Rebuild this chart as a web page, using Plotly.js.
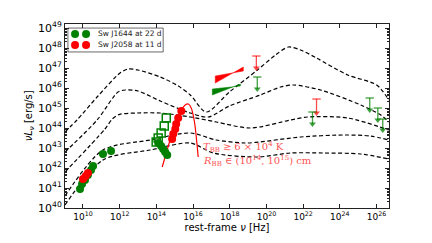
<!DOCTYPE html>
<html><head><meta charset="utf-8">
<script src="https://cdn.plot.ly/plotly-3.0.1.min.js"></script>
<style>html,body{margin:0;padding:0;background:#fff}#chart{width:432px;height:243px}</style>
</head><body><div id="chart"></div>
<script>
// ---- data (log10 of nu [Hz] and log10 of nuL_nu [erg/s]) ----
const modelAx = [9.02, 9.67, 10.82, 12.02, 12.46, 13.0, 14.21, 15.2, 15.85, 16.72, 17.98, 19.51, 20.49, 21.2, 21.86, 22.73, 24.43, 26.01, 26.67];
const modelAy = [43.8, 44.4, 45.6, 46.75, 46.95, 46.9, 46.55, 46.1, 45.65, 44.8, 45.8, 46.9, 47.65, 48.05, 47.9, 47.5, 46.65, 46.15, 45.4];
const modelBx = [9.02, 10.77, 11.91, 12.3, 13.0, 14.21, 15.85, 16.83, 17.98, 19.67, 20.77, 21.48, 22.95, 25.14, 26.23, 26.67];
const modelBy = [42.8, 44.4, 45.8, 45.9, 45.85, 45.35, 44.75, 44.55, 45.1, 45.65, 46.05, 46.15, 45.9, 45.15, 44.65, 44.3];
const modelCx = [9.02, 11.2, 11.6, 12.0, 12.95, 14.21, 15.85, 17.27, 19.13, 21.31, 22.24, 24.43, 26.67];
const modelCy = [41.8, 43.95, 44.45, 44.68, 44.75, 44.75, 44.55, 44.3, 44.0, 44.4, 44.55, 44.5, 43.9];
const modelDx = [9.02, 11.09, 13.66, 15.85, 17.27, 18.85, 19.62, 21.86, 24.21, 25.68, 26.67];
const modelDy = [40.6, 42.9, 43.4, 43.75, 43.4, 43.25, 43.3, 43.55, 43.65, 43.6, 43.4];
const modelEx = [9.02, 11.09, 13.66, 15.85, 17.1, 19.51, 21.31, 23.11, 25.14, 26.67];
const modelEy = [40.15, 42.4, 42.9, 43.25, 42.75, 42.55, 42.75, 42.75, 42.7, 42.45];

const j1644RadioX = [9.84, 9.95, 10.11, 10.27, 10.44, 10.55, 11.09, 11.53];
const j1644RadioY = [40.95, 41.2, 41.4, 41.65, 41.9, 42.1, 42.7, 42.85];
const j1644OptX = [14.1, 14.26, 14.37, 14.48, 14.59];
const j1644OptY = [43.25, 43.1, 42.95, 42.8, 42.65];
const j1644OpenX = [13.99, 14.1, 14.26, 14.43, 14.54];
const j1644OpenY = [43.3, 43.5, 43.75, 44.1, 44.5];
const j2058RadioX = [10.0, 10.15, 10.27];
const j2058RadioY = [41.45, 41.6, 41.75];
const j2058OptX = [14.86, 14.92, 15.03, 15.08, 15.19, 15.36];
const j2058OptY = [43.45, 43.7, 43.95, 44.2, 44.5, 44.85];

const bbX = [14.32, 14.75, 15.08, 15.36, 15.57, 15.74, 15.9, 16.07, 16.17, 16.28];
const bbY = [42.05, 43.4, 44.3, 44.9, 45.15, 45.2, 45.0, 44.35, 43.6, 42.55];

const j2058XrayX = [17.21, 18.74];
const j2058XrayLo = [46.25, 46.85];
const j2058XrayHi = [46.6, 47.05];
const j1644XrayX = [17.05, 18.58];
const j1644XrayLo = [45.65, 46.1];
const j1644XrayHi = [45.95, 46.2];

const j2058UlX = [19.45, 22.73];
const j2058UlTop = [47.6, 45.45];
const j2058UlTip = [47.0, 44.75];
const j1644UlX = [19.5, 22.51, 25.63, 26.07, 26.34];
const j1644UlTop = [46.55, 44.8, 45.5, 45.0, 44.45];
const j1644UlTip = [45.95, 44.2, 44.9, 44.4, 43.9];

const legendLabels = ["Sw J1644 at 22 d", "Sw J2058 at 11 d"];
const xTickExps = [10, 12, 14, 16, 18, 20, 22, 24, 26];
const yTickExps = [40, 41, 42, 43, 44, 45, 46, 47, 48, 49];

// ---- build ----
const P = v => Math.pow(10, v);
const GREEN = '#008000', RED = '#ff0000';
const traces = [];
function model(xs, ys) {
  traces.push({x: xs.map(P), y: ys.map(P), mode: 'lines', hoverinfo: 'skip',
    line: {color: '#000', width: 1.2, dash: '4px,2.5px', shape: 'spline', smoothing: 0.8}});
}
model(modelAx, modelAy); model(modelBx, modelBy); model(modelCx, modelCy);
model(modelDx, modelDy); model(modelEx, modelEy);

function bowtie(xs, lo, hi, color) {
  const px = [xs[0], xs[1], xs[1], xs[0], xs[0]].map(P);
  const py = [hi[0], lo[1], hi[1], lo[0], hi[0]].map(P);
  traces.push({x: px, y: py, mode: 'lines', fill: 'toself', fillcolor: color,
    line: {color: color, width: 0.5}, hoverinfo: 'skip'});
}
bowtie(j2058XrayX, j2058XrayLo, j2058XrayHi, RED);
bowtie(j1644XrayX, j1644XrayLo, j1644XrayHi, GREEN);

function uls(xs, tops, tips, color) {
  const lx = [], ly = [];
  xs.forEach((x, i) => { lx.push(P(x), P(x), null); ly.push(P(tops[i]), P(tips[i]), null); });
  traces.push({x: lx, y: ly, mode: 'lines', line: {color: color, width: 1.3}, hoverinfo: 'skip'});
  traces.push({x: xs.map(P), y: tops.map(P), mode: 'markers', hoverinfo: 'skip',
    marker: {symbol: 'line-ew', size: 6, line: {color: color, width: 1.3}}});
  traces.push({x: xs.map(P), y: tips.map(P), mode: 'markers', hoverinfo: 'skip',
    marker: {symbol: 'triangle-down', size: 6, color: color, line: {width: 0}}});
}
uls(j2058UlX, j2058UlTop, j2058UlTip, 'rgba(255,0,0,0.7)');
uls(j1644UlX, j1644UlTop, j1644UlTip, 'rgba(0,128,0,0.75)');

traces.push({x: bbX.map(P), y: bbY.map(P), mode: 'lines', hoverinfo: 'skip',
  line: {color: RED, width: 1.2, shape: 'spline', smoothing: 0.8}});

function pts(xs, ys, color) {
  traces.push({x: xs.map(P), y: ys.map(P), mode: 'markers', hoverinfo: 'skip',
    marker: {symbol: 'circle', size: 8, color: color, line: {width: 0}}});
}
pts(j1644RadioX, j1644RadioY, GREEN);
pts(j1644OptX, j1644OptY, GREEN);
traces.push({x: j1644OpenX.map(P), y: j1644OpenY.map(P), mode: 'markers', hoverinfo: 'skip',
  marker: {symbol: 'square-open', size: 8, color: GREEN, line: {width: 1.5, color: GREEN}}});
pts(j2058RadioX, j2058RadioY, RED);
pts(j2058OptX, j2058OptY, RED);

// custom legend markers (two per entry) on an overlay axis in [0,1]
traces.push({x: [0.031, 0.065], y: [0.946, 0.946], xaxis: 'x2', yaxis: 'y2', mode: 'markers',
  hoverinfo: 'skip', marker: {size: 8, color: GREEN}});
traces.push({x: [0.031, 0.065], y: [0.886, 0.886], xaxis: 'x2', yaxis: 'y2', mode: 'markers',
  hoverinfo: 'skip', marker: {size: 8, color: RED}});

const axCommon = {type: 'log', ticks: 'inside', mirror: 'ticks', showline: true, linecolor: '#222',
  linewidth: 1, tickcolor: '#222', showgrid: false, zeroline: false, tickmode: 'array'};
const layout = {
  width: 432, height: 243, showlegend: false,
  margin: {l: 65, r: 43, t: 24, b: 35},
  paper_bgcolor: '#fff', plot_bgcolor: '#fff',
  font: {family: 'DejaVu Sans', color: '#000'},
  xaxis: Object.assign({}, axCommon, {range: [9.02, 26.68], tickvals: xTickExps.map(P),
    ticktext: xTickExps.map(e => '10<sup>' + e + '</sup>'), ticklen: 4,
    tickfont: {size: 9}, title: {text: 'rest-frame <i>ν</i> [Hz]', font: {size: 10}, standoff: 2}}),
  yaxis: Object.assign({}, axCommon, {range: [40, 49.2], tickvals: yTickExps.map(P),
    ticktext: yTickExps.map(e => '10<sup>' + e + '</sup>'), ticklen: 4,
    tickfont: {size: 11}, minor: {ticks: 'inside', ticklen: 2, tickcolor: '#222', dtick: 'D1'},
    title: {text: ''}}),
  xaxis2: {overlaying: 'x', range: [0, 1], visible: false},
  yaxis2: {overlaying: 'y', range: [0, 1], visible: false},
  shapes: [{type: 'rect', xref: 'paper', yref: 'paper', x0: 0.009, x1: 0.303, y0: 0.848, y1: 0.978,
    line: {color: '#444', width: 0.8}, fillcolor: 'rgba(255,255,255,0.9)', layer: 'below'}],
  annotations: [
    {xref: 'paper', yref: 'paper', x: -0.11, y: 0.5, xanchor: 'center', yanchor: 'middle', showarrow: false,
      textangle: -90, text: '<i>νL</i><sub><i>ν</i></sub> [erg/s]', font: {size: 10}},
    {xref: 'paper', yref: 'paper', x: 0.096, y: 0.946, xanchor: 'left', yanchor: 'middle', showarrow: false,
      text: legendLabels[0], font: {size: 7.5, color: '#222'}},
    {xref: 'paper', yref: 'paper', x: 0.096, y: 0.886, xanchor: 'left', yanchor: 'middle', showarrow: false,
      text: legendLabels[1], font: {size: 7.5, color: '#222'}},
    {xref: 'paper', yref: 'paper', x: 0.42, y: 0.332, xanchor: 'left', yanchor: 'middle', showarrow: false,
      text: '<i>T</i><sub>BB</sub> ≳ 6 × 10<sup>4</sup> K', font: {family: 'DejaVu Serif', size: 10, color: '#ff5555'}},
    {xref: 'paper', yref: 'paper', x: 0.42, y: 0.255, xanchor: 'left', yanchor: 'middle', showarrow: false,
      text: '<i>R</i><sub>BB</sub> ∈ (10<sup>14</sup>, 10<sup>15</sup>) cm', font: {family: 'DejaVu Serif', size: 10, color: '#ff5555'}}
  ]
};
Plotly.newPlot('chart', traces, layout, {staticPlot: true, displayModeBar: false});
</script></body></html>
